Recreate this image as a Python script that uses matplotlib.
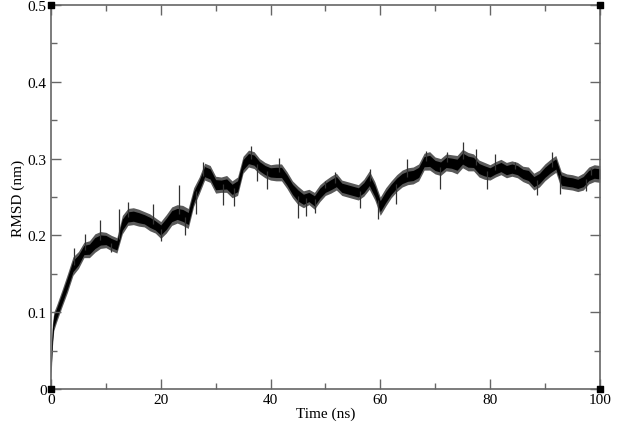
import numpy as np
import matplotlib.pyplot as plt
import matplotlib.ticker as mtick

# RMSD trace (ns, nm)
time_ns = [0, 0.25, 0.5] + list(range(1, 101))
rmsd_mid = [
    0.030, 0.070, 0.088,
    0.098, 0.118, 0.138, 0.160, 0.168, 0.181, 0.182, 0.190, 0.194, 0.194,
    0.190, 0.187, 0.214, 0.224, 0.225, 0.223, 0.221, 0.217, 0.213, 0.207,
    0.215, 0.225, 0.228, 0.226, 0.222, 0.250, 0.265, 0.283, 0.280, 0.266,
    0.266, 0.267, 0.260, 0.264, 0.292, 0.300, 0.298, 0.290, 0.285, 0.282,
    0.282, 0.282, 0.272, 0.260, 0.252, 0.247, 0.250, 0.245, 0.255, 0.262,
    0.266, 0.270, 0.262, 0.260, 0.258, 0.256, 0.262, 0.272, 0.258, 0.238,
    0.250, 0.260, 0.268, 0.274, 0.277, 0.278, 0.282, 0.296, 0.297, 0.291,
    0.289, 0.295, 0.294, 0.292, 0.300, 0.296, 0.295, 0.287, 0.284, 0.282,
    0.286, 0.289, 0.285, 0.287, 0.285, 0.280, 0.278, 0.270, 0.274, 0.282,
    0.288, 0.293, 0.272, 0.270, 0.269, 0.267, 0.270, 0.278, 0.281, 0.280,
]
# half width of the noisy band around the trace
rmsd_spread = [
    0.015, 0.015, 0.012,
    0.011, 0.011, 0.012, 0.012, 0.011, 0.010, 0.011, 0.012, 0.011, 0.010,
    0.010, 0.010, 0.012, 0.011, 0.011, 0.011, 0.010, 0.011, 0.010, 0.011,
    0.012, 0.012, 0.012, 0.013, 0.013, 0.012, 0.011, 0.011, 0.011, 0.011,
    0.010, 0.011, 0.011, 0.012, 0.011, 0.011, 0.011, 0.010, 0.010, 0.010,
    0.011, 0.011, 0.011, 0.011, 0.012, 0.011, 0.010, 0.011, 0.011, 0.010,
    0.011, 0.011, 0.010, 0.010, 0.010, 0.010, 0.011, 0.012, 0.012, 0.012,
    0.012, 0.011, 0.011, 0.011, 0.011, 0.011, 0.011, 0.011, 0.012, 0.011,
    0.011, 0.011, 0.011, 0.012, 0.012, 0.012, 0.011, 0.011, 0.011, 0.010,
    0.010, 0.010, 0.010, 0.010, 0.010, 0.010, 0.011, 0.011, 0.011, 0.011,
    0.011, 0.011, 0.011, 0.010, 0.010, 0.010, 0.011, 0.011, 0.011, 0.011,
]
# tips of the isolated spikes sticking out of the band
spike_t = [4.1, 6.2, 8.9, 11.0, 12.3, 14.1, 18.6, 20.1, 23.4, 24.4,
           26.5, 27.7, 31.3, 33.4, 36.4, 37.6, 39.4, 41.5, 45.1, 46.4,
           48.2, 50.0, 51.7, 56.3, 58.1, 59.6, 62.9, 64.8, 68.4, 70.9,
           72.1, 75.0, 77.5, 79.4, 80.9, 84.5, 88.5, 91.3, 92.7, 97.5, 98.4]
spike_tip = [0.184, 0.202, 0.220, 0.178, 0.234, 0.243, 0.241, 0.193, 0.265, 0.201,
             0.228, 0.296, 0.240, 0.238, 0.316, 0.271, 0.260, 0.301, 0.223, 0.225,
             0.229, 0.271, 0.282, 0.236, 0.286, 0.221, 0.241, 0.299, 0.310, 0.260,
             0.308, 0.321, 0.312, 0.260, 0.306, 0.295, 0.252, 0.308, 0.254, 0.258, 0.288]

corner_x = [0, 0, 100, 100]
corner_y = [0, 0.5, 0.5, 0]

plt.rcParams['font.family'] = ['Liberation Serif', 'DejaVu Serif']

t = np.array(time_ns)
mid = np.array(rmsd_mid)
spread = np.array(rmsd_spread)
spike_base = np.interp(spike_t, t, mid)

fig = plt.figure(figsize=(6.17, 4.27), dpi=100)
ax = fig.add_axes([0.0827, 0.0867, 0.8893, 0.8993])

# grey fuzz around a black core, like the dense raw trace
ax.fill_between(t, mid - spread, mid + spread, color='#5a5a5a', lw=0)
ax.vlines(spike_t, spike_base, spike_tip, color='#333333', lw=0.9)
ax.fill_between(t, mid - 0.6 * spread, mid + 0.6 * spread, color='black', lw=0)
ax.scatter(corner_x, corner_y, marker='s', s=22, color='black', clip_on=False, zorder=5)

ax.set_xlim(0, 100)
ax.set_ylim(0, 0.5)
ax.xaxis.set_major_locator(mtick.MultipleLocator(20))
ax.xaxis.set_minor_locator(mtick.MultipleLocator(10))
ax.yaxis.set_major_locator(mtick.MultipleLocator(0.1))
ax.yaxis.set_minor_locator(mtick.MultipleLocator(0.05))
ax.yaxis.set_major_formatter(mtick.FuncFormatter(lambda v, p: '0' if v == 0 else f'{v:.1f}'))
ax.tick_params(which='both', direction='in', top=True, right=True, color='#666666',
               labelsize=11, pad=3)
ax.tick_params(which='major', length=7, width=1)
ax.tick_params(which='minor', length=4, width=1)
for s in ax.spines.values():
    s.set_color('#666666')
    s.set_linewidth(1.2)

ax.set_xlabel('Time (ns)', fontsize=11, labelpad=0)
ax.set_ylabel('RMSD (nm)', fontsize=11, labelpad=2)

fig.savefig('out.png', dpi=100)
